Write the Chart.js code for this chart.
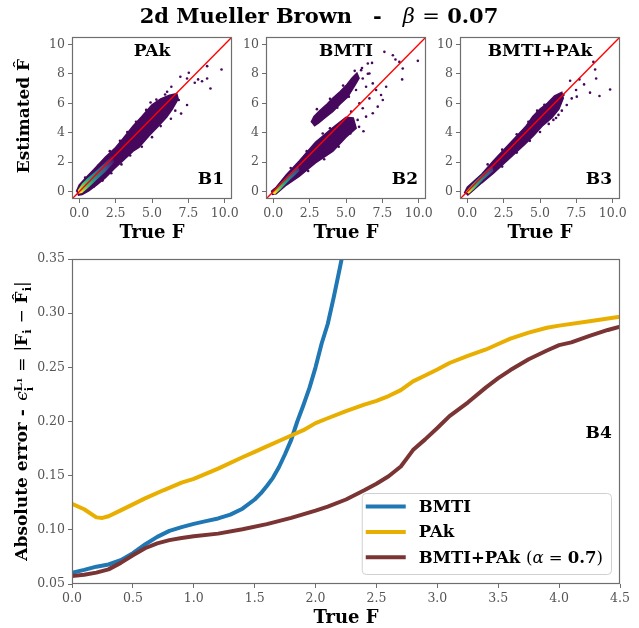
<!DOCTYPE html>
<html>
<head>
<meta charset="utf-8">
<title>2d Mueller Brown</title>
<script src="https://cdn.jsdelivr.net/npm/chart.js@4.4.1/dist/chart.umd.min.js"></script>
<style>
  html, body { margin: 0; padding: 0; background: #fff; }
  #fig { position: relative; width: 639px; height: 628px; overflow: hidden; font-family: 'DejaVu Serif', serif; color: #000; }
  #fig canvas { position: absolute; left: 0; top: 0; }
  .txt { position: absolute; white-space: nowrap; font-weight: bold; line-height: 1; transform: translate(-50%, -50%); }
  .rot { transform: translate(-50%, -50%) rotate(-90deg); }
  .n { font-weight: normal; }
  .it { font-style: italic; font-weight: normal; }
  .ss { display: inline-flex; flex-direction: column; font-size: 0.66em; line-height: 1; vertical-align: 0.5em; }
  .sb { font-size: 0.66em; vertical-align: -0.3em; }
  .tiny { font-size: 0.72em; }
</style>
</head>
<body>
<div id="fig">
  <canvas id="panelPak" width="639" height="628"></canvas>
  <canvas id="panelBmti" width="639" height="628"></canvas>
  <canvas id="panelMix" width="639" height="628"></canvas>
  <canvas id="errChart" width="639" height="628"></canvas>

  <div class="txt" style="left:319px;top:16px;font-size:21px">2d Mueller Brown&emsp;-&emsp;<span class="it">β</span> <span class="n">=</span> 0.07</div>

  <div class="txt rot" style="left:23px;top:116px;font-size:17px">Estimated F&#770;</div>
  <div class="txt" style="left:152px;top:232px;font-size:18px">True F</div>
  <div class="txt" style="left:346px;top:232px;font-size:18px">True F</div>
  <div class="txt" style="left:540px;top:232px;font-size:18px">True F</div>

  <div class="txt rot" style="left:24px;top:421px;font-size:17px">Absolute error -&ensp;<span class="it">ϵ</span><span class="ss"><span>L<span class="tiny">1</span></span><span>i</span></span> <span class="n">=</span> <span class="n">|</span>F<span class="sb">i</span> <span class="n">−</span> F&#770;<span class="sb">i</span><span class="n">|</span></div>
  <div class="txt" style="left:346px;top:617px;font-size:18px">True F</div>
</div>

<script>
// ---------------- data ----------------
const topXTicks = [0, 2.5, 5, 7.5, 10];
const topYTicks = [0, 2, 4, 6, 8, 10];
const diagonal = [[-0.5, -0.5], [10.5, 10.5]];

// PAk: outline of the dense cloud, its coloured core, and the loose points
const pakBand = [[-0.2, 0.0], [0.0, 0.45], [0.5, 1.0], [1.0, 1.5], [1.8, 2.35], [2.5, 3.0], [3.0, 3.6], [3.7, 4.45],
  [4.3, 5.1], [5.0, 5.9], [5.6, 6.3], [6.2, 6.55], [6.7, 6.65], [6.8, 6.3], [6.4, 5.6], [6.0, 5.05], [5.4, 4.4],
  [4.8, 3.8], [4.1, 3.0], [3.7, 2.75], [3.0, 2.1], [2.4, 1.55], [1.8, 0.95], [1.2, 0.45], [0.65, 0.05], [0.2, -0.2], [-0.1, -0.25]];
const pakCore = [[-0.1, 0.1], [0.2, 0.55], [0.6, 0.95], [1.2, 1.45], [1.8, 2.0], [2.3, 2.5], [2.4, 2.0], [1.8, 1.35],
  [1.2, 0.8], [0.6, 0.25], [0.2, -0.1], [-0.05, -0.15]];
const pakPoints = [[7.53, 8.07], [8.79, 8.52], [9.78, 8.29], [6.95, 7.8], [8.17, 7.62], [8.44, 7.5], [7.94, 7.39],
  [8.79, 7.68], [9.02, 7.0], [7.41, 7.68], [6.33, 7.12], [6.66, 6.56], [6.38, 6.11], [7.41, 5.88], [6.15, 5.54],
  [5.42, 5.88], [5.8, 5.32], [6.84, 6.22], [6.04, 6.78], [0.4, 0.95], [1.3, 1.75], [2.1, 2.75], [2.8, 3.45],
  [3.3, 4.05], [3.9, 4.75], [4.6, 5.55], [4.9, 6.05], [5.3, 6.25], [5.9, 6.6], [1.0, 0.35], [1.6, 0.75], [2.2, 1.25],
  [2.9, 1.85], [3.5, 2.45], [4.3, 3.05], [5.0, 3.7], [5.6, 4.45], [6.3, 4.95], [6.6, 5.5], [7.0, 5.3]];

// BMTI: main branch under the diagonal plus a detached upper branch
const bmtiBand = [[-0.15, 0.0], [0.2, 0.3], [0.9, 1.15], [1.8, 2.1], [2.9, 3.35], [4.1, 4.35], [5.0, 5.05], [5.5, 5.0],
  [5.7, 4.3], [5.0, 3.7], [4.1, 2.75], [2.9, 1.95], [1.8, 1.05], [0.9, 0.45], [0.2, -0.15], [-0.1, -0.2]];
const bmtiUpper = [[2.6, 4.7], [2.8, 5.1], [3.2, 5.5], [3.7, 5.95], [4.1, 6.35], [4.6, 6.8], [5.0, 7.2], [5.4, 7.7],
  [5.75, 8.05], [5.9, 7.7], [5.6, 7.2], [5.1, 6.4], [4.6, 5.95], [4.1, 5.45], [3.6, 5.05], [3.1, 4.65], [2.8, 4.45]];
const bmtiCore = [[-0.1, -0.1], [0.4, 0.45], [1.0, 1.1], [1.7, 1.8], [1.8, 1.4], [1.1, 0.75], [0.5, 0.15], [0.1, -0.2]];
const bmtiPoints = [[7.64, 9.49], [8.22, 9.26], [8.67, 8.81], [8.9, 8.36], [9.94, 8.88], [8.4, 8.97], [8.86, 7.62],
  [7.76, 7.12], [7.53, 6.22], [7.18, 5.77], [6.84, 5.32], [6.38, 5.09], [7.41, 6.56], [6.61, 6.33], [6.15, 5.66],
  [5.8, 4.87], [6.5, 8.7], [6.79, 8.74], [6.61, 8.02], [6.15, 7.68], [6.04, 8.25], [6.38, 7.12], [5.69, 6.9],
  [6.84, 7.35], [5.46, 4.76], [5.35, 5.43], [5.92, 6.0], [7.07, 6.9], [1.2, 1.6], [2.3, 2.75], [3.4, 3.95],
  [3.9, 4.3], [4.6, 4.55], [2.4, 1.4], [3.5, 2.2], [4.5, 3.05], [5.3, 3.95], [5.9, 4.4], [6.2, 4.1], [3.0, 5.6],
  [3.9, 6.3], [4.8, 7.2], [5.2, 6.45], [4.4, 5.7], [6.1, 8.4], [6.5, 8.0], [5.6, 8.2]];

// BMTI+PAk
const mixBand = [[-0.2, -0.1], [0.0, 0.3], [1.0, 1.2], [1.8, 2.1], [2.9, 3.25], [4.0, 4.4], [4.5, 5.1], [5.0, 5.6],
  [5.5, 6.0], [6.0, 6.5], [6.5, 6.75], [6.6, 6.35], [6.3, 5.6], [5.8, 5.0], [5.2, 4.5], [4.6, 3.85], [4.0, 3.25],
  [2.9, 2.25], [1.8, 1.25], [1.0, 0.6], [0.3, 0.0], [0.0, -0.25]];
const mixCore = [[-0.1, 0.0], [0.4, 0.55], [1.0, 1.15], [1.7, 1.8], [1.8, 1.4], [1.1, 0.8], [0.5, 0.2], [0.1, -0.15]];
const mixPoints = [[8.67, 8.81], [8.79, 8.29], [7.71, 7.62], [7.07, 7.53], [8.86, 7.68], [8.03, 7.28], [8.44, 6.72],
  [9.09, 6.49], [9.82, 6.94], [7.48, 6.9], [6.61, 6.56], [7.18, 6.33], [7.53, 6.45], [6.38, 6.0], [6.84, 5.88],
  [6.04, 5.66], [6.27, 5.21], [5.69, 5.09], [5.92, 4.87], [1.4, 1.85], [2.4, 2.85], [3.4, 3.9], [4.2, 4.75],
  [4.8, 5.5], [5.3, 5.9], [2.4, 1.7], [3.4, 2.65], [4.3, 3.45], [5.0, 4.05], [5.6, 4.6], [6.1, 5.0], [6.5, 5.5]];

// bottom panel: absolute error against true F
const errXTicks = [0, 0.5, 1, 1.5, 2, 2.5, 3, 3.5, 4, 4.5];
const errYTicks = [0.05, 0.10, 0.15, 0.20, 0.25, 0.30, 0.35];

const bmtiF = [0, 0.1, 0.2, 0.3, 0.4, 0.5, 0.6, 0.7, 0.8, 0.9, 1.0, 1.1, 1.2, 1.3, 1.4, 1.5, 1.55, 1.6, 1.65, 1.7,
  1.75, 1.8, 1.85, 1.9, 1.95, 2.0, 2.05, 2.1, 2.15, 2.2, 2.25];
const bmtiErr = [0.0604, 0.063, 0.066, 0.068, 0.072, 0.0785, 0.0865, 0.0935, 0.099, 0.1025, 0.1055, 0.108, 0.1105,
  0.114, 0.1195, 0.128, 0.1336, 0.1405, 0.148, 0.158, 0.170, 0.183, 0.200, 0.215, 0.231, 0.250, 0.272, 0.290,
  0.315, 0.342, 0.37];

const pakF = [0, 0.1, 0.2, 0.25, 0.3, 0.4, 0.5, 0.6, 0.75, 0.9, 1.0, 1.2, 1.4, 1.5, 1.6, 1.75, 1.9, 2.0, 2.1, 2.25,
  2.4, 2.5, 2.6, 2.7, 2.8, 2.9, 3.0, 3.1, 3.25, 3.4, 3.5, 3.6, 3.75, 3.9, 4.0, 4.25, 4.5];
const pakErr = [0.124, 0.119, 0.1115, 0.111, 0.1125, 0.118, 0.1235, 0.129, 0.1365, 0.1435, 0.147, 0.1565, 0.167,
  0.172, 0.177, 0.1845, 0.192, 0.1985, 0.203, 0.2095, 0.2155, 0.219, 0.2235, 0.229, 0.237, 0.2425, 0.248, 0.254,
  0.2605, 0.2665, 0.2715, 0.2765, 0.282, 0.2865, 0.2885, 0.2925, 0.2968];

const mixF = [0, 0.1, 0.2, 0.3, 0.4, 0.5, 0.6, 0.7, 0.8, 0.9, 1.0, 1.2, 1.4, 1.6, 1.8, 2.0, 2.1, 2.25, 2.4, 2.5, 2.6,
  2.7, 2.75, 2.8, 2.9, 3.0, 3.1, 3.25, 3.4, 3.5, 3.6, 3.75, 3.9, 4.0, 4.1, 4.25, 4.4, 4.5];
const mixErr = [0.0573, 0.0585, 0.0605, 0.0635, 0.0695, 0.0765, 0.083, 0.0875, 0.0905, 0.0925, 0.094, 0.0965,
  0.1005, 0.1053, 0.111, 0.1178, 0.1215, 0.128, 0.1365, 0.1425, 0.1495, 0.1585, 0.166, 0.1736, 0.1835, 0.194,
  0.205, 0.2175, 0.2315, 0.24, 0.2475, 0.2575, 0.2655, 0.2705, 0.273, 0.279, 0.2845, 0.2875];

const seriesNames = ['BMTI', 'PAk', 'BMTI+PAk'];
const mixAlpha = '0.7';

// ---------------- styling / helpers ----------------
const FONT = '"DejaVu Serif"';
const SPINE = '#6e6e6e';
const TICKTXT = '#555';
const PURPLE = '#46085c';
const COLORS = ['#1f77b4', '#e8ae00', '#7b3434'];

const xy = arr => arr.map(([x, y]) => ({ x, y }));
const zip = (xs, ys) => xs.map((x, i) => ({ x, y: ys[i] }));

// plot rectangles (left, top, right, bottom) in page pixels
const AX_W = 40, AX_H = 30;
function pad(r) {
  return { left: r[0] - AX_W, top: r[1], right: 639 - r[2], bottom: 628 - r[3] - AX_H };
}

function axis(min, max, ticks, digits, isX) {
  return {
    type: 'linear', min, max,
    afterBuildTicks: s => { s.ticks = ticks.map(v => ({ value: v })); },
    afterFit: s => { if (isX) s.height = AX_H; else s.width = AX_W; },
    grid: { drawOnChartArea: false, drawTicks: true, tickLength: 4, color: SPINE, lineWidth: 1 },
    border: { display: false },
    ticks: {
      autoSkip: false, maxRotation: 0, padding: 3, color: TICKTXT,
      font: { family: FONT, size: 12.5 },
      callback: v => Number(v).toFixed(digits)
    }
  };
}

// full box around the plotting area
const framePlugin = {
  id: 'frame',
  afterDraw(chart) {
    const { ctx, chartArea: a } = chart;
    ctx.save();
    ctx.strokeStyle = SPINE;
    ctx.lineWidth = 1.2;
    ctx.strokeRect(Math.round(a.left) + 0.5, Math.round(a.top) + 0.5,
      Math.round(a.width) - 1, Math.round(a.height) - 1);
    ctx.restore();
  }
};

// bold labels placed in axes fractions
const labelPlugin = {
  id: 'panelLabels',
  afterDraw(chart, args, opts) {
    const { ctx, chartArea: a } = chart;
    (opts.items || []).forEach(it => {
      ctx.save();
      ctx.font = `bold ${it.size}px ${FONT}`;
      ctx.fillStyle = '#000';
      ctx.textAlign = it.align;
      ctx.textBaseline = 'alphabetic';
      ctx.fillText(it.text, a.left + it.ax * a.width, a.bottom - it.ay * a.height);
      ctx.restore();
    });
  }
};

function richWidth(ctx, segs, size) {
  let w = 0;
  segs.forEach(s => {
    ctx.font = `${s.style || 'normal'} ${s.weight || 'normal'} ${size}px ${FONT}`;
    w += ctx.measureText(s.t).width;
  });
  return w;
}
function drawRich(ctx, segs, x, y, size) {
  segs.forEach(s => {
    ctx.font = `${s.style || 'normal'} ${s.weight || 'normal'} ${size}px ${FONT}`;
    ctx.fillText(s.t, x, y);
    x += ctx.measureText(s.t).width;
  });
}

// legend box in the lower right corner of the error plot
const legendPlugin = {
  id: 'boxLegend',
  afterDraw(chart, args, opts) {
    const { ctx, chartArea: a } = chart;
    const size = 16.5, rowH = 25.4;
    ctx.save();
    let textW = 0;
    opts.rows.forEach(r => { textW = Math.max(textW, richWidth(ctx, r.segs, size)); });
    const w = 57 + textW + 8, h = 81;
    const right = a.right - opts.right, bottom = a.bottom - opts.bottom;
    const left = right - w, top = bottom - h;
    ctx.beginPath();
    ctx.roundRect(left + 0.5, top + 0.5, w, h, 4);
    ctx.fillStyle = 'rgba(255,255,255,0.85)';
    ctx.fill();
    ctx.strokeStyle = '#d0d0d0';
    ctx.lineWidth = 1;
    ctx.stroke();
    ctx.textBaseline = 'middle';
    ctx.fillStyle = '#000';
    opts.rows.forEach((r, i) => {
      const yy = top + 13.5 + i * rowH;
      ctx.beginPath();
      ctx.moveTo(left + 4, yy);
      ctx.lineTo(left + 44, yy);
      ctx.strokeStyle = r.color;
      ctx.lineWidth = 4;
      ctx.stroke();
      drawRich(ctx, r.segs, left + 57, yy + 1, size);
    });
    ctx.restore();
  }
};

// density colouring of the core of each cloud
function coreFill(reach) {
  return c => {
    const chart = c.chart;
    const sx = chart.scales.x, sy = chart.scales.y;
    if (!chart.chartArea || !sx || !sy) return PURPLE;
    const g = chart.ctx.createLinearGradient(sx.getPixelForValue(0), sy.getPixelForValue(0),
      sx.getPixelForValue(reach), sy.getPixelForValue(reach));
    g.addColorStop(0.0, '#fde725');
    g.addColorStop(0.08, '#a0da39');
    g.addColorStop(0.2, '#4ac16d');
    g.addColorStop(0.35, '#1fa187');
    g.addColorStop(0.5, '#277f8e');
    g.addColorStop(0.7, '#365c8d');
    g.addColorStop(0.85, '#46327e');
    g.addColorStop(1.0, PURPLE);
    return g;
  };
}

function makePanel(id, rect, bands, core, reach, points, labels) {
  const datasets = [];
  bands.forEach(b => datasets.push({
    data: xy(b), showLine: true, fill: 'shape', backgroundColor: PURPLE, borderColor: PURPLE,
    borderWidth: 1.5, pointRadius: 0, order: 4
  }));
  datasets.push({
    data: xy(core), showLine: true, fill: 'shape', backgroundColor: coreFill(reach),
    borderWidth: 0, pointRadius: 0, order: 3
  });
  datasets.push({
    data: xy(points), showLine: false, pointRadius: 1.3, backgroundColor: PURPLE,
    borderColor: PURPLE, pointBorderWidth: 0, order: 2
  });
  datasets.push({
    data: xy(diagonal), showLine: true, fill: false, borderColor: '#ff0000', borderWidth: 1.4,
    pointRadius: 0, order: 1
  });
  new Chart(document.getElementById(id), {
    type: 'line',
    data: { datasets },
    options: {
      responsive: false, animation: false, events: [], devicePixelRatio: 1,
      layout: { padding: pad(rect) },
      plugins: { legend: { display: false }, tooltip: { enabled: false }, panelLabels: { items: labels } },
      scales: { x: axis(-0.5, 10.5, topXTicks, 1, true), y: axis(-0.5, 10.5, topYTicks, 0, false) }
    },
    plugins: [framePlugin, labelPlugin]
  });
}

makePanel('panelPak', [72, 37, 232, 199], [pakBand], pakCore, 2.4, pakPoints, [
  { text: 'PAk', ax: 0.5, ay: 0.88, align: 'center', size: 17 },
  { text: 'B1', ax: 0.95, ay: 0.093, align: 'right', size: 17 }
]);
makePanel('panelBmti', [266, 37, 426, 199], [bmtiBand, bmtiUpper], bmtiCore, 2.0, bmtiPoints, [
  { text: 'BMTI', ax: 0.5, ay: 0.88, align: 'center', size: 17 },
  { text: 'B2', ax: 0.95, ay: 0.093, align: 'right', size: 17 }
]);
makePanel('panelMix', [460, 37, 620, 199], [mixBand], mixCore, 2.0, mixPoints, [
  { text: 'BMTI+PAk', ax: 0.5, ay: 0.88, align: 'center', size: 17 },
  { text: 'B3', ax: 0.95, ay: 0.093, align: 'right', size: 17 }
]);

// error curves
const errSeries = [zip(bmtiF, bmtiErr), zip(pakF, pakErr), zip(mixF, mixErr)];
new Chart(document.getElementById('errChart'), {
  type: 'line',
  data: {
    datasets: errSeries.map((d, i) => ({
      label: seriesNames[i], data: d, borderColor: COLORS[i], borderWidth: 4, pointRadius: 0,
      tension: 0, fill: false, borderJoinStyle: 'round', order: 3 - i
    }))
  },
  options: {
    responsive: false, animation: false, events: [], devicePixelRatio: 1,
    layout: { padding: pad([72, 259, 620, 584]) },
    plugins: {
      legend: { display: false }, tooltip: { enabled: false },
      panelLabels: { items: [{ text: 'B4', ax: 0.985, ay: 0.45, align: 'right', size: 17 }] },
      boxLegend: {
        right: 9, bottom: 10,
        rows: [
          { color: COLORS[0], segs: [{ t: seriesNames[0], weight: 'bold' }] },
          { color: COLORS[1], segs: [{ t: seriesNames[1], weight: 'bold' }] },
          { color: COLORS[2], segs: [
            { t: seriesNames[2] + ' ', weight: 'bold' }, { t: '(' }, { t: 'α', style: 'italic' },
            { t: ' = ' }, { t: mixAlpha, weight: 'bold' }, { t: ')' }
          ] }
        ]
      }
    },
    scales: { x: axis(0, 4.5, errXTicks, 1, true), y: axis(0.05, 0.35, errYTicks, 2, false) }
  },
  plugins: [framePlugin, labelPlugin, legendPlugin]
});
</script>
</body>
</html>
